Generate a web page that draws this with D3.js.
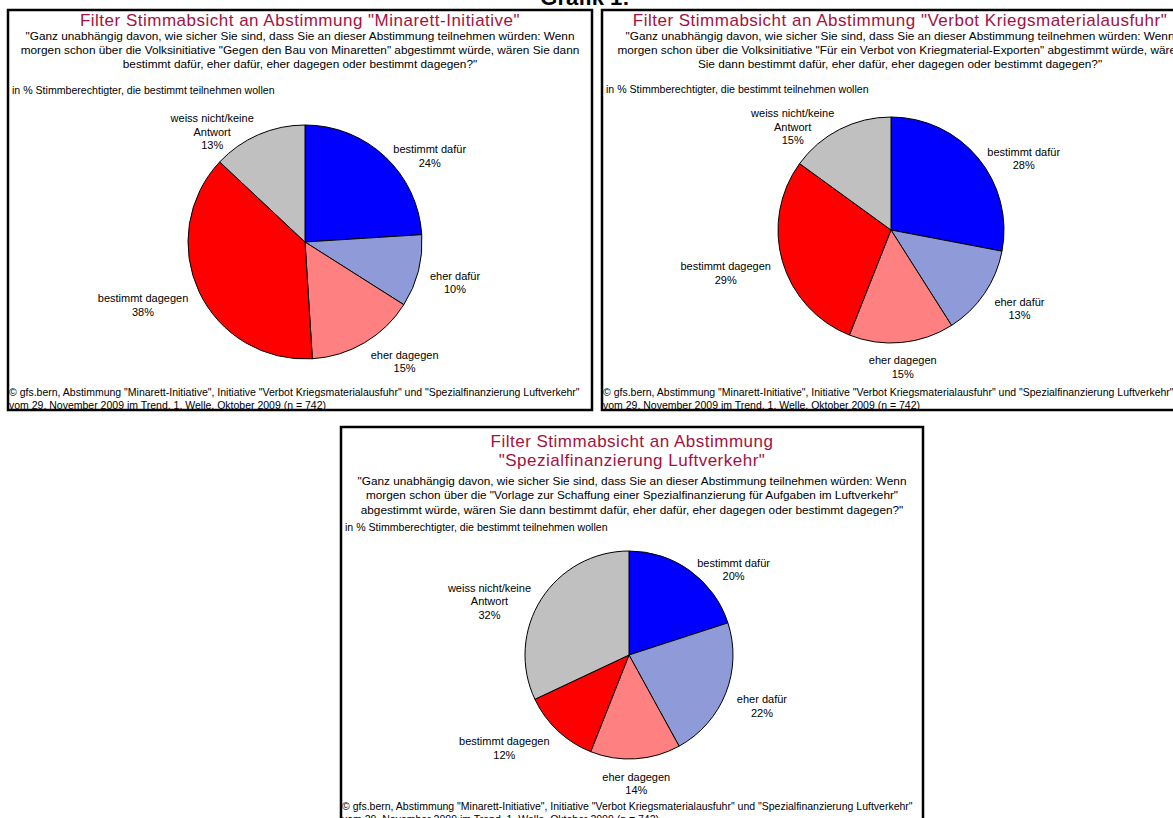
<!DOCTYPE html>
<html>
<head>
<meta charset="utf-8">
<script src="https://cdn.jsdelivr.net/npm/d3@7"></script>
<style>
  html, body { margin: 0; padding: 0; background: #fff; }
  svg { display: block; font-family: "Liberation Sans", Arial, sans-serif; }
</style>
</head>
<body>
<svg id="chart" width="1173" height="818"></svg>
<script>
// ---------- data ----------
const categories = ["bestimmt dafür", "eher dafür", "eher dagegen", "bestimmt dagegen", "weiss nicht/keine Antwort"];
const categoryLabelLines = [["bestimmt dafür"], ["eher dafür"], ["eher dagegen"], ["bestimmt dagegen"], ["weiss nicht/keine", "Antwort"]];
const valuesMinarett = [24, 10, 15, 38, 13];
const valuesKriegsmaterial = [28, 13, 15, 29, 15];
const valuesLuftverkehr = [20, 22, 14, 12, 32];

const mainTitle = "Grafik 1:";
const titlesMinarett = ["Filter Stimmabsicht an Abstimmung \"Minarett-Initiative\""];
const titlesKriegsmaterial = ["Filter Stimmabsicht an Abstimmung \"Verbot Kriegsmaterialausfuhr\""];
const titlesLuftverkehr = ["Filter Stimmabsicht an Abstimmung", "\"Spezialfinanzierung Luftverkehr\""];

const questionMinarett = [
  "\"Ganz unabhängig davon, wie sicher Sie sind, dass Sie an dieser Abstimmung teilnehmen würden: Wenn",
  "morgen schon über die Volksinitiative \"Gegen den Bau von Minaretten\" abgestimmt würde, wären Sie dann",
  "bestimmt dafür, eher dafür, eher dagegen oder bestimmt dagegen?\""
];
const questionKriegsmaterial = [
  "\"Ganz unabhängig davon, wie sicher Sie sind, dass Sie an dieser Abstimmung teilnehmen würden: Wenn",
  "morgen schon über die Volksinitiative \"Für ein Verbot von Kriegmaterial-Exporten\" abgestimmt würde, wären",
  "Sie dann bestimmt dafür, eher dafür, eher dagegen oder bestimmt dagegen?\""
];
const questionLuftverkehr = [
  "\"Ganz unabhängig davon, wie sicher Sie sind, dass Sie an dieser Abstimmung teilnehmen würden: Wenn",
  "morgen schon über die \"Vorlage zur Schaffung einer Spezialfinanzierung für Aufgaben im Luftverkehr\"",
  "abgestimmt würde, wären Sie dann bestimmt dafür, eher dafür, eher dagegen oder bestimmt dagegen?\""
];
const unitNote = "in % Stimmberechtigter, die bestimmt teilnehmen wollen";
const sourceNote = [
  "© gfs.bern, Abstimmung \"Minarett-Initiative\", Initiative \"Verbot Kriegsmaterialausfuhr\" und \"Spezialfinanzierung Luftverkehr\"",
  "vom 29. November 2009 im Trend, 1. Welle, Oktober 2009 (n = 742)"
];

// ---------- styles / layout ----------
const sliceColors = ["#0000ff", "#8f9bd8", "#ff8080", "#ff0000", "#c0c0c0"];
const titleColor = "#a3123f";

const panels = [
  { values: valuesMinarett, titles: titlesMinarett, question: questionMinarett,
    box: { x: 8, y: 10, w: 584, h: 400 }, textCx: 300,
    titleY: 25.5, questionY: 39.5, unitY: 93.5,
    pie: { cx: 305, cy: 242, r: 117 } },
  { values: valuesKriegsmaterial, titles: titlesKriegsmaterial, question: questionKriegsmaterial,
    box: { x: 602, y: 10, w: 596, h: 400 }, textCx: 900,
    titleY: 25.5, questionY: 39.5, unitY: 92.5,
    pie: { cx: 891, cy: 230, r: 113 } },
  { values: valuesLuftverkehr, titles: titlesLuftverkehr, question: questionLuftverkehr,
    box: { x: 341, y: 427, w: 582, h: 397 }, textCx: 632,
    titleY: 447, questionY: 485, unitY: 530.5,
    pie: { cx: 629, cy: 655, r: 104 } }
];

const svg = d3.select("#chart");
svg.append("rect").attr("width", 1173).attr("height", 818).attr("fill", "#fff");

svg.append("text")
  .attr("x", 585).attr("y", 5)
  .attr("text-anchor", "middle")
  .attr("font-size", 22).attr("font-weight", "bold")
  .attr("fill", "#000")
  .text(mainTitle);

const pieGen = d3.pie().sort(null).value(d => d).startAngle(0).endAngle(2 * Math.PI);

panels.forEach(p => {
  const g = svg.append("g");
  const b = p.box;
  g.append("rect")
    .attr("x", b.x).attr("y", b.y).attr("width", b.w).attr("height", b.h)
    .attr("fill", "#fff").attr("stroke", "#000").attr("stroke-width", 2.5);

  // titles
  p.titles.forEach((t, i) => {
    g.append("text")
      .attr("x", p.textCx).attr("y", p.titleY + i * 19)
      .attr("text-anchor", "middle")
      .attr("font-size", 17).attr("letter-spacing", 0.5)
      .attr("fill", titleColor)
      .text(t);
  });
  // question
  p.question.forEach((t, i) => {
    g.append("text")
      .attr("x", p.textCx).attr("y", p.questionY + i * 14.3)
      .attr("text-anchor", "middle")
      .attr("font-size", 11.8).attr("fill", "#000")
      .text(t);
  });
  // unit
  g.append("text")
    .attr("x", b.x + 4).attr("y", p.unitY)
    .attr("font-size", 10.6).attr("fill", "#000")
    .text(unitNote);
  // source
  sourceNote.forEach((t, i) => {
    g.append("text")
      .attr("x", b.x + 1).attr("y", b.y + b.h - 14.5 + i * 13)
      .attr("font-size", 10.5).attr("fill", "#000")
      .text(t);
  });

  // pie
  const arcs = pieGen(p.values);
  const arc = d3.arc().innerRadius(0).outerRadius(p.pie.r);
  const pg = g.append("g").attr("transform", `translate(${p.pie.cx},${p.pie.cy})`);
  pg.selectAll("path").data(arcs).enter().append("path")
    .attr("d", arc)
    .attr("fill", (d, i) => sliceColors[i])
    .attr("stroke", "#000").attr("stroke-width", 1);

  // labels
  const gap = 12, lineH = 13.5;
  arcs.forEach((d, i) => {
    const mid = (d.startAngle + d.endAngle) / 2;
    const s = Math.sin(mid), c = Math.cos(mid);
    const px = p.pie.cx + (p.pie.r + gap) * s;
    const py = p.pie.cy - (p.pie.r + gap) * c;
    const lines = categoryLabelLines[i].concat([d.data + "%"]);
    const h = lines.length * lineH;
    const t = g.append("text")
      .attr("text-anchor", "middle")
      .attr("font-size", 11).attr("fill", "#000");
    lines.forEach(l => t.append("tspan").text(l));
    let w = 0;
    t.selectAll("tspan").each(function () { w = Math.max(w, this.getComputedTextLength()); });
    let xc, yc;
    if (s > 0.25) { xc = px + w / 2; yc = py + 9; }
    else if (s < -0.25) { xc = px - w / 2; yc = py + 9; }
    else { xc = px; yc = py - c * h / 2; }
    const top = yc - h / 2;
    t.selectAll("tspan")
      .attr("x", xc)
      .attr("y", (l, j) => top + j * lineH + 10);
  });
});
</script>
</body>
</html>
